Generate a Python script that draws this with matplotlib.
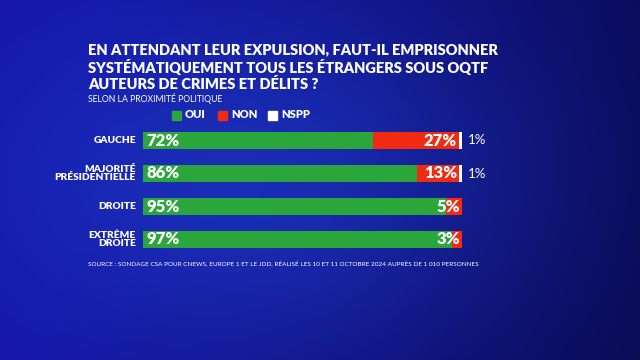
import numpy as np
import matplotlib.pyplot as plt

categories = ['GAUCHE', 'MAJORITÉ\nPRÉSIDENTIELLE', 'DROITE', 'EXTRÊME\nDROITE']
oui = [72, 86, 95, 97]
non = [27, 13, 5, 3]
nspp = [1, 1, 0, 0]

W, H = 640, 360
fig = plt.figure(figsize=(W / 100, H / 100), dpi=100)

# fond dégradé bleu
bg = fig.add_axes([0, 0, 1, 1])
xx, yy = np.meshgrid(np.linspace(0, 1, 320), np.linspace(0, 1, 180))
glow = np.exp(-(((xx - 0.38) / 0.42) ** 2 + ((yy - 0.5) / 0.5) ** 2))
dark = np.array([10, 10, 78]) / 255
mid = np.array([20, 20, 165]) / 255
light = np.array([30, 58, 200]) / 255
t = np.clip(1.05 - xx * 1.0 + 0.1 * (1 - yy), 0, 1)[..., None]
base = dark + (mid - dark) * t
img = base + (light - base) * (glow[..., None] * 0.7)
bg.imshow(np.clip(img, 0, 1), aspect='auto', extent=[0, 1, 0, 1])
bg.axis('off')

def px(x, y):
    return x / W, 1 - y / H

font = 'Lato'
green, red, white = '#2ba63a', '#f22a12', '#ffffff'

title = ("EN ATTENDANT LEUR EXPULSION, FAUT-IL EMPRISONNER\n"
         "SYSTÉMATIQUEMENT TOUS LES ÉTRANGERS SOUS OQTF\n"
         "AUTEURS DE CRIMES ET DÉLITS ?")
fig.text(*px(88, 43), title, color='white', fontsize=10.5, fontweight='heavy',
         family=font, va='top', ha='left', linespacing=1.2)
fig.text(*px(88, 98), 'SELON LA PROXIMITÉ POLITIQUE', color='white', fontsize=6.2,
         family=font, va='center', ha='left')

# légende
for xs, col, lab in [(172, green, 'OUI'), (218, red, 'NON'), (268, white, 'NSPP')]:
    fig.patches.append(plt.Rectangle(px(xs, 120), 9 / W, 9 / H, transform=fig.transFigure,
                                     color=col, zorder=3))
    fig.text(*px(xs + 13, 115), lab, color='white', fontsize=8, fontweight='heavy',
             family=font, va='center', ha='left')

ax = fig.add_axes([143 / W, 1 - 256 / H, 319 / W, 132 / H])
ax.set_xlim(0, 100)
ax.set_ylim(3.5, -0.5)
ax.axis('off')
y = np.arange(len(categories))
h = 0.49
ax.barh(y, oui, height=h, color=green)
ax.barh(y, non, left=oui, height=h, color=red)
ax.barh(y, nspp, left=np.add(oui, non), height=h, color=white)

for i in range(len(categories)):
    ax.text(1.2, i, f'{oui[i]}%', color='white', fontsize=12, fontweight='heavy',
            family=font, va='center', ha='left')
    ax.text(oui[i] + non[i] - 0.5, i, f'{non[i]}%', color='white', fontsize=12,
            fontweight='heavy', family=font, va='center', ha='right')
    if nspp[i]:
        ax.text(101.8, i, f'{nspp[i]}%', color='white', fontsize=9.5,
                family=font, va='center', ha='left', clip_on=False)
    ax.text(-2.2, i, categories[i], color='white', fontsize=7.3, fontweight='heavy',
            family=font, va='center', ha='right', linespacing=0.95, clip_on=False)

fig.text(*px(88, 264), 'SOURCE : SONDAGE CSA POUR CNEWS, EUROPE 1 ET LE JDD, RÉALISÉ LES 10 ET 11 '
         'OCTOBRE 2024 AUPRÈS DE 1 010 PERSONNES', color='white', fontsize=4.6,
         family=font, va='center', ha='left')

fig.savefig('out.png', dpi=100)
